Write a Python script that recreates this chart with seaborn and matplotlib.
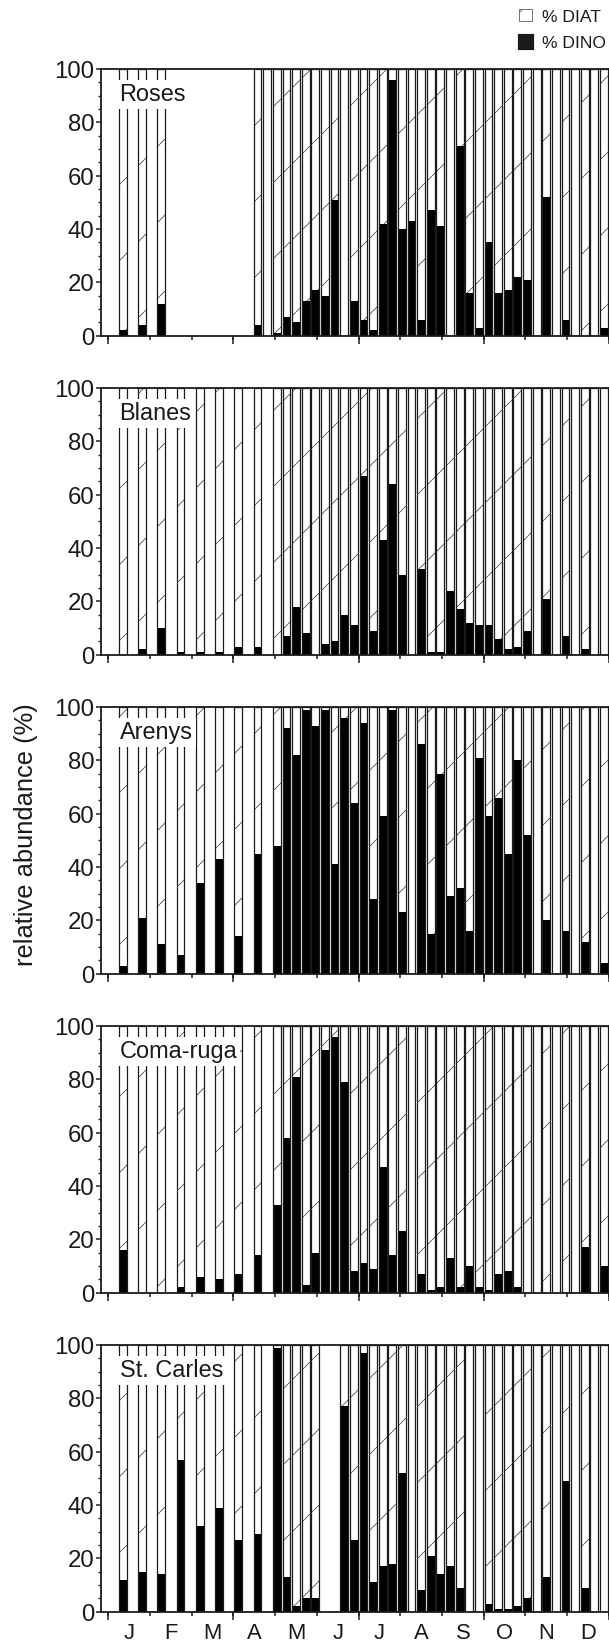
"""Weekly relative abundance of diatoms vs dinoflagellates at five stations."""

import numpy as np
import pandas as pd
import matplotlib
matplotlib.use("Agg")
import matplotlib.pyplot as plt
from matplotlib.patches import Patch
from matplotlib.ticker import MultipleLocator, NullLocator
import seaborn as sns

# hatch spacing is fixed per inch, so a high dpi keeps the '/' hatch sparse
DPI = 228
W_PX, H_PX = 609, 1648


def pt(px):
    """Pixel size -> points at the figure dpi."""
    return px * 72.0 / DPI


NA = np.nan
MONTHS = ["J", "F", "M", "A", "M", "J", "J", "A", "S", "O", "N", "D"]
STATIONS = ["Roses", "Blanes", "Arenys", "Coma-ruga", "St. Carles"]

# sampling slot = week of the year (0 = first week of January)
# dino = % dinoflagellates, diatoms make up the rest; NA = empty (uncounted) bar
WEEKS_ROSES = [1, 3, 5, 15, 16, 17, 18, 19, 20, 21, 22, 23, 24, 25, 26, 27, 28,
               29, 30, 31, 32, 33, 34, 35, 36, 37, 38, 39, 40, 41, 42, 43, 44,
               45, 46, 47, 48, 49, 50, 51]
DINO_ROSES = [2, 4, 12, 4, NA, 1, 7, 5, 13, 17, 15, 51, NA, 13, 6, 2, 42, 96,
              40, 43, 6, 47, 41, NA, 71, 16, 3, 35, 16, 17, 22, 21, NA, 52, NA,
              6, NA, 0, NA, 3]

WEEKS_BLANES = [1, 3, 5, 7, 9, 11, 13, 15, 17, 18, 19, 20, 21, 22, 23, 24, 25,
                26, 27, 28, 29, 30, 31, 32, 33, 34, 35, 36, 37, 38, 39, 40, 41,
                42, 43, 44, 45, 46, 47, 48, 49, 50, 51]
DINO_BLANES = [0, 2, 10, 1, 1, 1, 3, 3, 0, 7, 18, 8, 0, 4, 5, 15, 11, 67, 9,
               43, 64, 30, NA, 32, 1, 1, 24, 17, 12, 11, 11, 6, 2, 3, 9, NA, 21,
               NA, 7, NA, 2, NA, NA]

WEEKS_ARENYS = [1, 3, 5, 7, 9, 11, 13, 15, 17, 18, 19, 20, 21, 22, 23, 24, 25,
                26, 27, 28, 29, 30, 31, 32, 33, 34, 35, 36, 37, 38, 39, 40, 41,
                42, 43, 44, 45, 46, 47, 48, 49, 50, 51]
DINO_ARENYS = [3, 21, 11, 7, 34, 43, 14, 45, 48, 92, 82, 99, 93, 99, 41, 96,
               64, 94, 28, 59, 99, 23, NA, 86, 15, 75, 29, 32, 16, 81, 59, 66,
               45, 80, 52, NA, 20, NA, 16, NA, 12, NA, 4]

WEEKS_COMARUGA = [1, 3, 5, 7, 9, 11, 13, 15, 17, 18, 19, 20, 21, 22, 23, 24,
                  25, 26, 27, 28, 29, 30, 31, 32, 33, 34, 35, 36, 37, 38, 39,
                  40, 41, 42, 43, 44, 45, 46, 47, 48, 49, 50, 51]
DINO_COMARUGA = [16, 0, 0, 2, 6, 5, 7, 14, 33, 58, 81, 3, 15, 91, 96, 79, 8,
                 11, 9, 47, 14, 23, NA, 7, 1, 2, 13, 2, 10, 2, 1, 7, 8, 2, 0,
                 NA, 0, NA, 0, NA, 17, NA, 10]

WEEKS_STCARLES = [1, 3, 5, 7, 9, 11, 13, 15, 17, 18, 19, 20, 21, 24, 25, 26,
                  27, 28, 29, 30, 31, 32, 33, 34, 35, 36, 37, 38, 39, 40, 41,
                  42, 43, 44, 45, 46, 47, 48, 49, 50, 51]
DINO_STCARLES = [12, 15, 14, 57, 32, 39, 27, 29, 99, 13, 2, 5, 5, 77, 27, 97,
                 11, 17, 18, 52, NA, 8, 21, 14, 17, 9, NA, NA, 3, 1, 1, 2, 5,
                 NA, 13, NA, 49, NA, 9, NA, NA]

SERIES = [
    (WEEKS_ROSES, DINO_ROSES),
    (WEEKS_BLANES, DINO_BLANES),
    (WEEKS_ARENYS, DINO_ARENYS),
    (WEEKS_COMARUGA, DINO_COMARUGA),
    (WEEKS_STCARLES, DINO_STCARLES),
]

N_WEEKS = 52
HATCH_GREY = "0.3"
INK = "#1a1a1a"

sns.set_style("ticks")
plt.rcParams.update(
    {
        "font.family": ["Liberation Sans", "DejaVu Sans"],
        "axes.linewidth": pt(1.8),
        "hatch.linewidth": pt(0.8),
        "xtick.major.width": pt(1.5),
        "ytick.major.width": pt(1.5),
        "ytick.minor.width": pt(1.3),
        "text.color": INK,
        "xtick.color": INK,
        "ytick.color": INK,
        "axes.edgecolor": INK,
    }
)


def panel_frame(weeks, dino):
    df = pd.DataFrame({"week": np.asarray(weeks, float) + 0.5,
                       "dino": np.asarray(dino, float)})
    df["diat"] = 100 - df["dino"]
    df["total"] = df["dino"] + df["diat"]
    df["frame"] = 100.0
    return df


def draw_panel(ax, df, name, bottom):
    counted = df.dropna()
    common = dict(x="week", native_scale=True, errorbar=None, saturation=1,
                  width=0.81, ax=ax)
    # diatom share: hatched white, full height, black covers the dino part
    sns.barplot(data=counted, y="total", color="white", hatch="/",
                edgecolor=HATCH_GREY, linewidth=0, zorder=1, **common)
    sns.barplot(data=counted, y="dino", color="black", linewidth=0,
                zorder=2, **common)
    sns.barplot(data=df, y="frame", color=INK, fill=False,
                linewidth=pt(1.25), zorder=3, **common)

    ax.set_xlim(-0.79, N_WEEKS)
    ax.set_ylim(0, 100)
    ax.set_xlabel("")
    ax.set_ylabel("")

    month_edges = [i * N_WEEKS / 12 for i in range(13)]
    month_mids = [(i + 0.5) * N_WEEKS / 12 for i in range(12)]
    ax.set_xticks(month_edges)
    ax.set_xticklabels([])
    ax.set_xticks(month_mids, minor=True)
    ax.set_xticklabels(MONTHS if bottom else [], minor=True)
    ax.tick_params(axis="x", which="major", direction="out", length=pt(4),
                   top=False)
    ax.tick_params(axis="x", which="minor", length=0, pad=pt(11),
                   labelsize=pt(22), top=False)

    # quarter boundaries get longer ticks
    sec = ax.secondary_xaxis("bottom")
    sec.set_xticks([0, 13, 26, 39, 52])
    sec.set_xticklabels([])
    sec.xaxis.set_minor_locator(NullLocator())
    sec.tick_params(axis="x", direction="out", length=pt(8), width=pt(1.5),
                    color=INK)
    sec.spines["bottom"].set_visible(False)

    ax.set_yticks([0, 20, 40, 60, 80, 100])
    ax.yaxis.set_minor_locator(MultipleLocator(5))
    ax.tick_params(axis="y", which="major", direction="out", length=pt(5),
                   pad=pt(1.5), labelsize=pt(24), right=False)
    ax.tick_params(axis="y", which="minor", direction="out", length=pt(3),
                   right=False)
    for side in ["top", "right", "left", "bottom"]:
        ax.spines[side].set_visible(True)

    ax.text(0.037, 0.906, name, transform=ax.transAxes, ha="left",
            va="center", fontsize=pt(23.5), zorder=10,
            bbox=dict(facecolor="white", edgecolor="none", pad=pt(3)))


fig = plt.figure(figsize=((W_PX + 0.5) / DPI, (H_PX + 0.5) / DPI), dpi=DPI)

left_px, right_px = 100.7, 608.3
top0_px, step_px, height_px = 69.5, 318.9, 266.5

for i, (name, (weeks, dino)) in enumerate(zip(STATIONS, SERIES)):
    top_px = top0_px + i * step_px
    ax = fig.add_axes([left_px / W_PX, 1 - (top_px + height_px) / H_PX,
                       (right_px - left_px) / W_PX, height_px / H_PX])
    draw_panel(ax, panel_frame(weeks, dino), name, bottom=(i == len(STATIONS) - 1))

fig.text(26 / W_PX, 1 - 834 / H_PX, "relative abundance (%)", rotation=90,
         ha="center", va="center", fontsize=pt(25.5))

handles = [
    Patch(facecolor="white", edgecolor="#555555", hatch="/", linewidth=pt(0.8)),
    Patch(facecolor=INK, edgecolor=INK),
]
fig.legend(handles, ["% DIAT", "% DINO"], loc="upper right",
           bbox_to_anchor=(606 / W_PX, 1 - 9 / H_PX), frameon=False,
           fontsize=pt(17.5), handlelength=0.75, handleheight=0.75,
           handletextpad=0.6, labelspacing=0.62, borderpad=0, borderaxespad=0)

fig.savefig("out.png", dpi=DPI)
